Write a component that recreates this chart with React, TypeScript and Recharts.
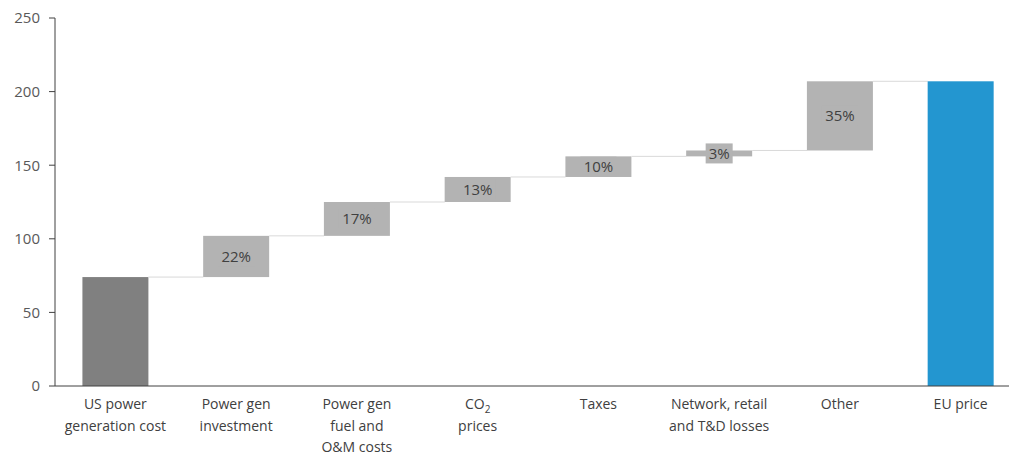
import React from 'react';
import { BarChart, Bar, XAxis, YAxis, LabelList } from 'recharts';

const categories = [
  'US power generation cost',
  'Power gen investment',
  'Power gen fuel and O&M costs',
  'CO2 prices',
  'Taxes',
  'Network, retail and T&D losses',
  'Other',
  'EU price',
];
const kinds = ['total', 'delta', 'delta', 'delta', 'delta', 'delta', 'delta', 'total'];
const amounts = [74, 28, 23, 17, 14, 4, 47, 207];
const shareLabels = ['', '22%', '17%', '13%', '10%', '3%', '35%', ''];
const tickLines: string[][] = [
  ['US power', 'generation cost'],
  ['Power gen', 'investment'],
  ['Power gen', 'fuel and', 'O&M costs'],
  ['CO2', 'prices'],
  ['Taxes'],
  ['Network, retail', 'and T&D losses'],
  ['Other'],
  ['EU price'],
];
const yTicks = [0, 50, 100, 150, 200, 250];

let running = 0;
const data = categories.map((name, i) => {
  const isTotal = kinds[i] === 'total';
  const base = isTotal ? 0 : running;
  const value = amounts[i];
  running = isTotal ? value : running + value;
  return { name, base, value, label: shareLabels[i], kind: kinds[i], idx: i };
});

const GAP = 0.227;
const FONT = "'Open Sans', sans-serif";

const colorFor = (i: number, kind: string) => {
  if (kind === 'delta') return '#b3b3b3';
  return i === 0 ? '#808080' : '#2396d0';
};

const WaterfallShape = (props: any) => {
  const { x, y, width, height, payload } = props;
  const i = payload?.idx ?? props.index ?? 0;
  const gap = (width * (2 * GAP)) / (1 - 2 * GAP);
  return (
    <g>
      <rect x={x} y={y} width={width} height={height} fill={colorFor(i, payload?.kind)} />
      {i < data.length - 1 && (
        <line x1={x + width} x2={x + width + gap} y1={y} y2={y} stroke="#d9d9d9" strokeWidth={1} />
      )}
    </g>
  );
};

const renderLabel = (props: any) => {
  const { x, y, width, height, value } = props;
  if (!value) return null;
  const cx = Number(x) + Number(width) / 2;
  const cy = Number(y) + Number(height) / 2;
  const w = String(value).length * 9 + 9;
  return (
    <g>
      <rect x={cx - w / 2} y={cy - 10} width={w} height={20} fill="#b3b3b3" />
      <text x={cx} y={cy} dy="0.36em" textAnchor="middle" fontSize={15} fill="#404040" fontFamily={FONT}>
        {value}
      </text>
    </g>
  );
};

const XTick = (props: any) => {
  const { x, y, payload } = props;
  const lines = tickLines[payload.index] || [];
  const LH = 21.5;
  let shift = 0;
  return (
    <text x={x} y={y} textAnchor="middle" fontSize={14} fill="#404040" fontFamily={FONT}>
      {lines.map((line, k) => {
        const dy = k === 0 ? 15 : LH - shift;
        shift = 0;
        if (line === 'CO2') {
          shift = 4;
          return (
            <tspan key={k} x={x} dy={dy}>
              CO
              <tspan fontSize={10} dy={4}>2</tspan>
            </tspan>
          );
        }
        return (
          <tspan key={k} x={x} dy={dy}>
            {line}
          </tspan>
        );
      })}
    </text>
  );
};

export default function App() {
  return (
    <div style={{ position: 'fixed', left: 0, top: 0, width: 1009, height: 453, overflow: 'hidden', background: '#fff' }}>
      <BarChart
        width={1021}
        height={453}
        data={data}
        margin={{ top: 18, right: 0, left: 8, bottom: 0 }}
        barCategoryGap={`${GAP * 100}%`}
        style={{ fontFamily: FONT }}
      >
        <XAxis
          dataKey="name"
          interval={0}
          tickLine={false}
          axisLine={{ stroke: '#404040' }}
          height={67}
          tick={<XTick />}
        />
        <YAxis
          domain={[0, 250]}
          ticks={yTicks}
          width={47}
          tickSize={6}
          tickMargin={9}
          axisLine={{ stroke: '#404040' }}
          tickLine={{ stroke: '#404040' }}
          tick={{ fill: '#595959', fontSize: 15, fontFamily: FONT }}
        />
        <Bar dataKey="base" stackId="w" fill="transparent" isAnimationActive={false} />
        <Bar dataKey="value" stackId="w" shape={<WaterfallShape />} isAnimationActive={false}>
          <LabelList dataKey="label" content={renderLabel} />
        </Bar>
      </BarChart>
    </div>
  );
}
